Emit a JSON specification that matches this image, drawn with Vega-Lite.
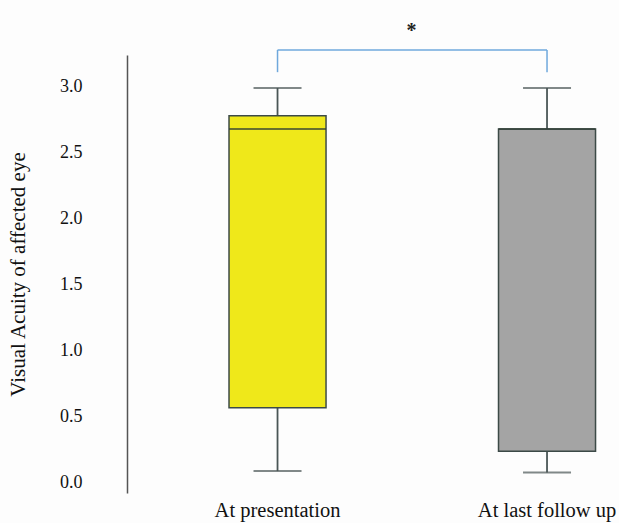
{
  "$schema": "https://vega.github.io/schema/vega-lite/v6.json",
  "width": 492,
  "height": 438,
  "autosize": "none",
  "padding": {"left": 127, "top": 55, "right": 0, "bottom": 30},
  "background": "#fdfdfd",
  "config": {"view": {"stroke": null}, "font": "Liberation Serif"},
  "data": {"values": [
    {"group": "At presentation", "min": 0.09, "q1": 0.57, "median": 2.68, "q3": 2.78, "max": 2.99},
    {"group": "At last follow up", "min": 0.08, "q1": 0.24, "median": 2.68, "q3": 2.68, "max": 2.99}
  ]},
  "encoding": {
    "x": {
      "field": "group", "type": "nominal", "sort": null,
      "scale": {"paddingInner": 0.64, "paddingOuter": 0.2328, "align": 0.813},
      "axis": {"title": null, "domain": false, "ticks": false, "labelAngle": 0, "labelFont": "Liberation Serif", "labelFontSize": 20.5, "labelColor": "#111", "labelPadding": 7}
    }
  },
  "layer": [
    {
      "mark": {"type": "rule", "color": "#4a5656", "strokeWidth": 1.8},
      "encoding": {
        "y": {"field": "min", "type": "quantitative", "title": "Visual Acuity of affected eye",
          "scale": {"domain": [-0.076, 3.24], "nice": false, "zero": false},
          "axis": {"values": [0, 0.5, 1, 1.5, 2, 2.5, 3], "format": ".1f", "ticks": false, "grid": false, "domainColor": "#555", "domainWidth": 1.5, "labelFont": "Liberation Serif", "labelFontSize": 18, "labelPadding": 45, "labelColor": "#111", "titleFont": "Liberation Serif", "titleFontSize": 21, "titleFontWeight": "normal", "titleColor": "#111", "titlePadding": 31}},
        "y2": {"field": "q1"}
      }
    },
    {
      "mark": {"type": "rule", "color": "#4a5656", "strokeWidth": 1.8},
      "encoding": {
        "y": {"field": "q3", "type": "quantitative", "title": "Visual Acuity of affected eye"},
        "y2": {"field": "max"}
      }
    },
    {
      "mark": {"type": "bar", "stroke": "#3c4a47", "strokeWidth": 1.5},
      "encoding": {
        "y": {"field": "q1", "type": "quantitative", "title": "Visual Acuity of affected eye"},
        "y2": {"field": "q3"},
        "color": {"field": "group", "type": "nominal", "scale": {"domain": ["At presentation", "At last follow up"], "range": ["#efe81a", "#a4a4a4"]}, "legend": null}
      }
    },
    {
      "mark": {"type": "tick", "color": "#2f3d35", "size": 97, "thickness": 2},
      "encoding": {
        "y": {"field": "median", "type": "quantitative", "title": "Visual Acuity of affected eye"}
      }
    },
    {
      "mark": {"type": "tick", "color": "#4a5656", "size": 48, "thickness": 2},
      "encoding": {
        "y": {"field": "min", "type": "quantitative", "title": "Visual Acuity of affected eye"}
      }
    },
    {
      "mark": {"type": "tick", "color": "#4a5656", "size": 48, "thickness": 2},
      "encoding": {
        "y": {"field": "max", "type": "quantitative", "title": "Visual Acuity of affected eye"}
      }
    },
    {
      "data": {"values": [{"a": 1}]},
      "mark": {"type": "rule", "color": "#6fa8dc", "strokeWidth": 1.5},
      "encoding": {
        "x": {"datum": "At presentation", "type": "nominal"},
        "x2": {"datum": "At last follow up"},
        "y": {"datum": 3.278, "type": "quantitative"}
      }
    },
    {
      "data": {"values": [{"a": 1}]},
      "mark": {"type": "rule", "color": "#6fa8dc", "strokeWidth": 1.5},
      "encoding": {
        "x": {"datum": "At presentation", "type": "nominal"},
        "y": {"datum": 3.11, "type": "quantitative"},
        "y2": {"datum": 3.278}
      }
    },
    {
      "data": {"values": [{"a": 1}]},
      "mark": {"type": "rule", "color": "#6fa8dc", "strokeWidth": 1.5},
      "encoding": {
        "x": {"datum": "At last follow up", "type": "nominal"},
        "y": {"datum": 3.11, "type": "quantitative"},
        "y2": {"datum": 3.278}
      }
    },
    {
      "data": {"values": [{"a": 1}]},
      "mark": {"type": "text", "text": "*", "fontSize": 20, "fontWeight": "bold", "color": "#222", "dx": 134, "baseline": "middle"},
      "encoding": {
        "x": {"datum": "At presentation", "type": "nominal"},
        "y": {"datum": 3.42, "type": "quantitative"}
      }
    }
  ]
}
